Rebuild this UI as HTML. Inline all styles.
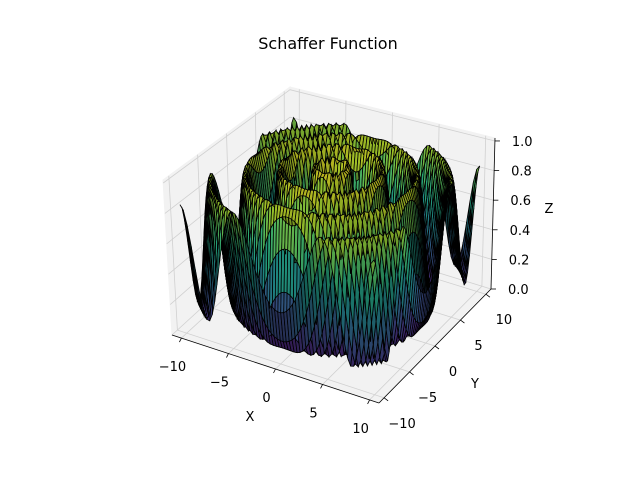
<!DOCTYPE html>
<html><head><meta charset="utf-8"><style>
html,body{margin:0;padding:0;background:#fff;}
svg{display:block;font-family:"DejaVu Sans","Liberation Sans",sans-serif;}
</style></head><body>
<svg id="chart" width="640" height="480" viewBox="0 0 640 480" xmlns="http://www.w3.org/2000/svg">
<rect width="640" height="480" fill="#fff"/>
<text x="328" y="49" text-anchor="middle" font-size="16">Schaffer Function</text>
<g id="panes"></g>
<g id="grid"></g>
<g id="axes"></g>
<g id="surface"></g>
<g id="labels"></g>
<text x="250" y="421" text-anchor="middle" font-size="13">X</text>
<text x="475" y="388" text-anchor="middle" font-size="13">Y</text>
<text x="549" y="213" text-anchor="middle" font-size="13">Z</text>
</svg>
<script>
const gridCount = 64;
const xRange = [-10, 10];
const yRange = [-10, 10];
const xTicks = [-10, -5, 0, 5, 10];
const yTicks = [-10, -5, 0, 5, 10];
const zTicks = [0, 0.2, 0.4, 0.6, 0.8, 1.0];
const xTickLabels = ["\u221210", "\u22125", "0", "5", "10"];
const yTickLabels = ["\u221210", "\u22125", "0", "5", "10"];
const zTickLabels = ["0.0", "0.2", "0.4", "0.6", "0.8", "1.0"];

function schaffer(x, y) {
  const r2 = x * x + y * y;
  const s = Math.sin(Math.sqrt(r2));
  return 0.5 + (s * s - 0.5) / Math.pow(1 + 0.001 * r2, 2);
}

const NS = "http://www.w3.org/2000/svg";
const B = 11;
const F00 = [172, 335], F10 = [379, 403], F11 = [491, 289], F01 = [290, 227];
const T00 = [163, 180], T10 = [378, 240], T11 = [495, 138], T01 = [290, 87];
const ZTOP = 1.02;
function bil(a, b, c, d, u, v) {
  return [
    a[0] * (1 - u) * (1 - v) + b[0] * u * (1 - v) + c[0] * u * v + d[0] * (1 - u) * v,
    a[1] * (1 - u) * (1 - v) + b[1] * u * (1 - v) + c[1] * u * v + d[1] * (1 - u) * v
  ];
}
function proj(x, y, z) {
  const u = (x + B) / (2 * B), v = (y + B) / (2 * B);
  const f = bil(F00, F10, F11, F01, u, v), t = bil(T00, T10, T11, T01, u, v);
  const w = z / ZTOP;
  return [f[0] + (t[0] - f[0]) * w, f[1] + (t[1] - f[1]) * w];
}
function mk(tag, attrs, parent) {
  const e = document.createElementNS(NS, tag);
  for (const k in attrs) e.setAttribute(k, attrs[k]);
  parent.appendChild(e);
  return e;
}
function pts(arr) { return arr.map(p => proj(p[0], p[1], p[2]).map(n => n.toFixed(1)).join(",")).join(" "); }

const panes = document.getElementById("panes");
const paneDefs = [
  [[-B, -B, 0], [B, -B, 0], [B, B, 0], [-B, B, 0]],
  [[-B, -B, 0], [-B, B, 0], [-B, B, ZTOP], [-B, -B, ZTOP]],
  [[-B, B, 0], [B, B, 0], [B, B, ZTOP], [-B, B, ZTOP]]
];
paneDefs.forEach((p, i) => {
  const e = mk("polygon", { points: pts(p), fill: "#f2f2f2", stroke: "#f2f2f2" }, panes);
  
  
});
const grid = document.getElementById("grid");
function gl(list, name) {
  const e = mk("polyline", { points: pts(list), fill: "none", stroke: "#d0d0d0", "stroke-width": 0.8 }, grid);
  
  
}
xTicks.forEach(t => gl([[t, -B, 0], [t, B, 0], [t, B, ZTOP]], "x-grid-line"));
yTicks.forEach(t => gl([[B, t, 0], [-B, t, 0], [-B, t, ZTOP]], "y-grid-line"));
zTicks.forEach(t => gl([[-B, -B, t], [-B, B, t], [B, B, t]], "z-grid-line"));

const axes = document.getElementById("axes");
function al(list, name) {
  const e = mk("polyline", { points: pts(list), fill: "none", stroke: "#000", "stroke-width": 0.8 }, axes);
  
  
}
al([[-B, -B, 0], [B, -B, 0]], "x-axis-line");
al([[B, -B, 0], [B, B, 0]], "y-axis-line");
al([[B, B, 0], [B, B, ZTOP]], "z-axis-line");

const labels = document.getElementById("labels");
function tickMark(p, dx, dy, name) {
  const e = mk("line", { x1: p[0], y1: p[1], x2: p[0] + dx, y2: p[1] + dy, stroke: "#000", "stroke-width": 0.8 }, labels);
  
  
}
function label(x, y, txt, anchor, name) {
  const e = mk("text", { x: x, y: y, "font-size": 13, "text-anchor": anchor }, labels);
  e.textContent = txt;
  
  
}
xTicks.forEach((t, i) => {
  const p = proj(t, -B, 0);
  tickMark(p, -2, 4, "x-tick");
  label(p[0] - 9, p[1] + 33, xTickLabels[i], "middle", "x-tick-label");
});
yTicks.forEach((t, i) => {
  const p = proj(B, t, 0);
  tickMark(p, 4, 3, "y-tick");
  label(p[0] + 18, p[1] + 30, yTickLabels[i], "middle", "y-tick-label");
});
zTicks.forEach((t, i) => {
  const p = proj(B, B, t);
  tickMark(p, 5, 0, "z-tick");
  label(p[0] + 17, p[1] + 5, zTickLabels[i], "start", "z-tick-label");
});

const VIR = ["#440154", "#472d7b", "#3b528b", "#2c728e", "#21918c", "#28ae80", "#5ec962", "#addc30", "#fde725"];
function hex(h) { return [parseInt(h.substr(1, 2), 16), parseInt(h.substr(3, 2), 16), parseInt(h.substr(5, 2), 16)]; }
const VIRC = VIR.map(hex);
function viridis(t) {
  t = Math.max(0, Math.min(1, t)) * (VIRC.length - 1);
  const i = Math.min(VIRC.length - 2, Math.floor(t)), f = t - i;
  return [0, 1, 2].map(k => VIRC[i][k] + (VIRC[i + 1][k] - VIRC[i][k]) * f);
}
const xs = [], ys = [];
for (let i = 0; i < gridCount; i++) {
  xs.push(xRange[0] + (xRange[1] - xRange[0]) * i / (gridCount - 1));
  ys.push(yRange[0] + (yRange[1] - yRange[0]) * i / (gridCount - 1));
}
const Z = ys.map(y => xs.map(x => schaffer(x, y)));
let zmin = Infinity, zmax = -Infinity;
Z.forEach(r => r.forEach(v => { zmin = Math.min(zmin, v); zmax = Math.max(zmax, v); }));
const L = [-0.667, -0.667, 0.333];
const view = [0.433, -0.75, 0.5];
const cells = [];
for (let j = 0; j < gridCount - 1; j++) {
  for (let i = 0; i < gridCount - 1; i++) {
    const c = [[xs[i], ys[j], Z[j][i]], [xs[i + 1], ys[j], Z[j][i + 1]], [xs[i + 1], ys[j + 1], Z[j + 1][i + 1]], [xs[i], ys[j + 1], Z[j + 1][i]]];
    const zc = (c[0][2] + c[1][2] + c[2][2] + c[3][2]) / 4;
    const xc = (xs[i] + xs[i + 1]) / 2, yc = (ys[j] + ys[j + 1]) / 2;
    const a = [c[2][0] - c[0][0], c[2][1] - c[0][1], c[2][2] - c[0][2]];
    const b = [c[3][0] - c[1][0], c[3][1] - c[1][1], c[3][2] - c[1][2]];
    let n = [a[1] * b[2] - a[2] * b[1], a[2] * b[0] - a[0] * b[2], a[0] * b[1] - a[1] * b[0]];
    const nl = Math.hypot(n[0], n[1], n[2]) || 1;
    n = n.map(v => v / nl);
    const s = n[0] * L[0] + n[1] * L[1] + n[2] * L[2];
    const fac = 0.3 + 0.7 * (s + 1) / 2;
    const col = viridis((zc - zmin) / (zmax - zmin)).map(v => Math.round(v * fac));
    const depth = (xc / 22) * view[0] + (yc / 22) * view[1] + zc * 0.7 * view[2];
    cells.push({ c, col, depth });
  }
}
cells.sort((p, q) => p.depth - q.depth);
const surf = document.getElementById("surface");
cells.forEach(cell => {
  const e = document.createElementNS(NS, "polygon");
  e.setAttribute("points", pts(cell.c));
  e.setAttribute("fill", "rgb(" + cell.col.join(",") + ")");
  e.setAttribute("stroke", "#000");
  e.setAttribute("stroke-width", "0.8");
  
  
  surf.appendChild(e);
});
</script>
</body></html>
